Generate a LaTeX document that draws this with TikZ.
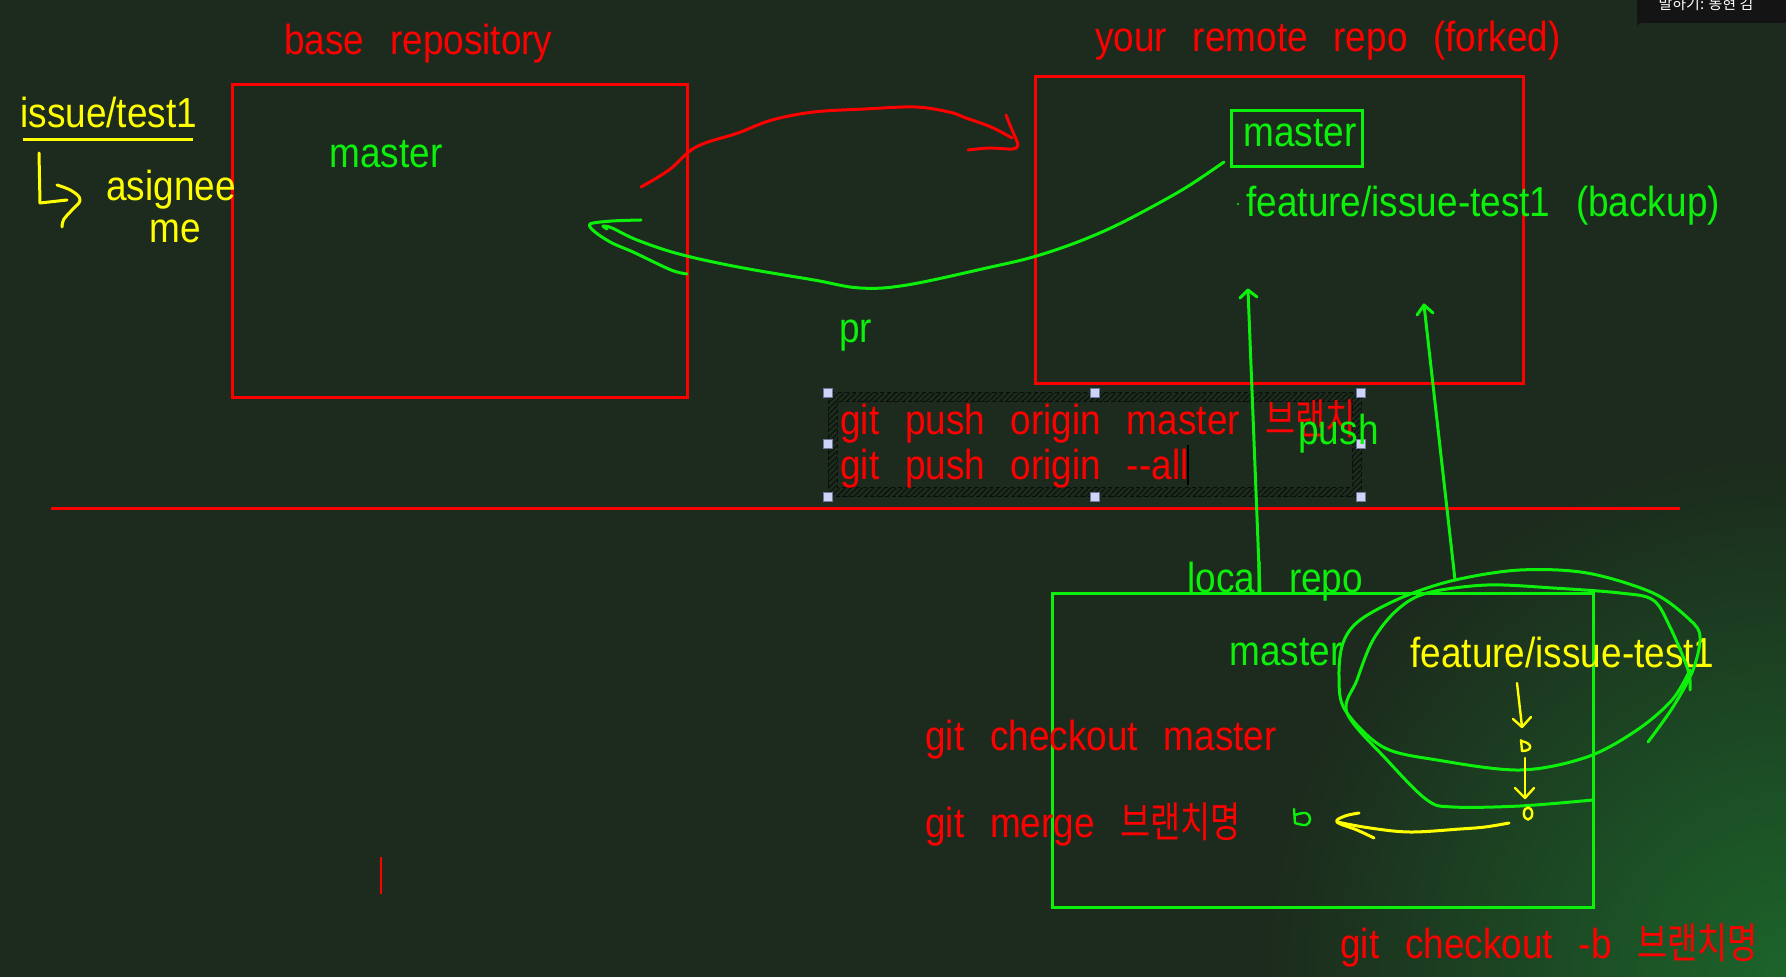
\documentclass[tikz,border=0pt]{standalone}
\usepackage{fontspec}
\usetikzlibrary{patterns.meta}
\setmainfont{Liberation Sans}[FakeStretch=0.88,WordSpace=2.5]
\newfontfamily\kr{Noto Sans CJK KR}[FakeStretch=0.78]
\newfontfamily\krsmall{Noto Sans CJK KR}
\definecolor{bg}{RGB}{28,43,29}
\definecolor{glow}{RGB}{28,100,42}
\definecolor{myred}{RGB}{255,0,0}
\definecolor{mygreen}{RGB}{12,240,12}
\definecolor{myyellow}{RGB}{255,255,0}
\definecolor{hatch}{RGB}{10,14,10}
\definecolor{handlefill}{RGB}{205,212,245}
\definecolor{handledraw}{RGB}{110,120,160}
\tikzset{
  txt/.style={anchor=base west, inner sep=0pt, font=\fontsize{21}{24}\selectfont},
  rtxt/.style={txt, text=myred},
  gtxt/.style={txt, text=mygreen},
  ytxt/.style={txt, text=myyellow},
  box/.style={draw, line width=1.5pt, inner sep=0pt, fill=none},
  stroke/.style={line width=1.5pt, line cap=round, line join=round},
  handle/.style={draw=handledraw, fill=handlefill, line width=0.4pt, minimum size=4.5pt, inner sep=0pt},
}
\begin{document}
\begin{tikzpicture}[x=0.5pt,y=-0.5pt]
\useasboundingbox (0,0) rectangle (1786,977);
% background
\fill[bg] (0,0) rectangle (1786,977);
\begin{scope}
  \clip (0,0) rectangle (1786,977);
  \shade[inner color=glow, outer color=bg] (1786,977) circle (520);
\end{scope}

% top-right overlay
\fill[black!92] (1637,-5) -- (1786,-5) -- (1786,23) -- (1641,23) arc[start angle=270, end angle=180, radius=4] -- cycle;
\node[anchor=base, inner sep=0pt, text=white, font=\krsmall\fontsize{7.5}{8}\selectfont] (talk) at (1706,10) {말하기: 동현 김};

% boxes
\node[box, draw=myred, minimum width=227.5pt, minimum height=156.5pt] (base) at (459.5,241.5) {};
\node[box, draw=myred, minimum width=244pt, minimum height=153.5pt] (remote) at (1279,230.5) {};
\node[box, draw=mygreen, minimum width=65.5pt, minimum height=28pt] (mbox) at (1296.5,139) {};
\node[box, draw=mygreen, minimum width=270.5pt, minimum height=157pt] (local) at (1322.5,750) {};

% separator line
\coordinate (sepL) at (51,509);
\coordinate (sepR) at (1680,509);
\draw[myred, line width=1.5pt] (sepL) -- (sepR);

% small red tick
\coordinate (tickA) at (381,857);
\coordinate (tickB) at (381,894);
\draw[myred, line width=1pt] (tickA) -- (tickB);

% left notes
\node[ytxt] (issue) at (20,128) {issue/test1};
\draw[myyellow, line width=1.5pt] (23,140) -- (193,140);
\draw[myyellow, stroke] (39,153) -- (40,203) -- (67,200);
\draw[myyellow, stroke] plot[smooth, tension=0.7] coordinates {(57,185) (72,191) (80,200) (72,210) (64,219) (62,227)};
\node[ytxt] (asg) at (106,201) {asignee};
\node[ytxt] (me) at (149,243) {me};

% titles
\node[rtxt] (tbase) at (284,55) {base repository};
\node[rtxt] (tremote) at (1095,52) {your remote repo (forked)};

% texts inside boxes
\node[gtxt] (m1) at (329,168) {master};
\node[gtxt] (m2) at (1243,147) {master};
\fill[mygreen] (1238,204) circle (1.2);
\node[gtxt] (feat) at (1246,217) {feature/issue-test1 (backup)};
\node[gtxt] (pr) at (839,343) {pr};

% selected text frame
\fill[pattern={Lines[angle=45,distance=2pt,line width=0.45pt]}, pattern color=hatch, even odd rule] (828,393) rectangle (1361,497) (837,402) rectangle (1352,488);
\draw[hatch, line width=0.5pt, dash pattern=on 2pt off 1.5pt] (828,393) rectangle (1361,497);
\draw[hatch, line width=0.5pt, dash pattern=on 2pt off 1.5pt] (837,402) rectangle (1352,488);
\foreach \p/\n in {{(828,393)}/h1,{(1095,393)}/h2,{(1361,393)}/h3,{(828,444)}/h4,{(1361,444)}/h5,{(828,497)}/h6,{(1095,497)}/h7,{(1361,497)}/h8}
  \node[handle] (\n) at \p {};
\node[rtxt] (cmd1) at (840,435) {git push origin master {\kr 브랜치}};
\node[rtxt] (cmd2) at (840,480) {git push origin -{}-all};
\draw[black, line width=0.6pt] (1188,445) -- (1188,485);
\node[gtxt] (push) at (1298,445) {push};

% local repo texts
\node[gtxt] (tlocal) at (1187,592) {local repo};
\node[gtxt] (m3) at (1229,665) {master};
\node[ytxt] (feat2) at (1410,667) {feature/issue-test1};
\node[rtxt] (co) at (925,750) {git checkout master};
\node[rtxt] (mg) at (925,837) {git merge {\kr 브랜치명}};
\node[rtxt] (cob) at (1340,958) {git checkout -b {\kr 브랜치명}};

% red fork arrow
\draw[myred, stroke] plot[smooth, tension=0.6] coordinates {(641,187) (669,170) (696,147) (738,133) (772,120) (814,112) (865,109) (915,107) (949,112) (966,118) (991,127) (1012,138)};
\draw[myred, stroke] plot[smooth, tension=0.5] coordinates {(1006,115) (1012,130) (1018,145) (1012,149) (990,148) (968,150)};

% green pr arrow
\draw[mygreen, stroke] plot[smooth, tension=0.6] coordinates {(1224,162) (1190,185) (1159,203) (1115,226) (1075,243) (1033,257) (991,267) (907,285) (860,288) (814,280) (738,267) (679,254) (637,240) (612,228) (603,226) (607,229)};
\draw[mygreen, stroke] plot[smooth, tension=0.5] coordinates {(641,220) (612,221) (590,224) (595,232) (612,243) (633,252) (671,270) (687,274)};

% push arrows
\coordinate (p1s) at (1260,593);
\coordinate (p1e) at (1248,290);
\coordinate (p2s) at (1455,580);
\coordinate (p2e) at (1424,305);
\draw[mygreen, stroke] (p1s) -- (p1e);
\draw[mygreen, stroke] (1240,298) -- (p1e) -- (1257,297);
\draw[mygreen, stroke] (p2s) -- (p2e);
\draw[mygreen, stroke] (1417,315) -- (p2e) -- (1433,313);

% green loops
\draw[mygreen, stroke] plot[smooth, tension=0.55] coordinates {(1648,742) (1673,707) (1693,670) (1700,637) (1690,620) (1653,593) (1587,573) (1520,570) (1455,580) (1403,597) (1360,620) (1343,643) (1339,677) (1345,710) (1383,747) (1437,760) (1520,770) (1587,757) (1637,730) (1672,700) (1690,670)};
\draw[mygreen, stroke] plot[smooth, tension=0.55] coordinates {(1593,800) (1520,806) (1453,807) (1427,800) (1387,760) (1347,713) (1357,680) (1373,640) (1397,610) (1427,593) (1487,585) (1553,588) (1620,593) (1653,600) (1670,627) (1688,670) (1690,690)};

% yellow commit arrows
\draw[myyellow, line width=1.2pt, line cap=round] (1517,683) -- (1522,727);
\draw[myyellow, line width=1.2pt, line cap=round, line join=round] (1513,719) -- (1522,727) -- (1531,717);
\draw[myyellow, line width=1.2pt, line cap=round] (1521,740) -- (1522,751);
\draw[myyellow, line width=1.2pt, line cap=round] (1521,741) .. controls (1533,743) and (1533,751) .. (1522,751);
\draw[myyellow, line width=1.2pt, line cap=round] (1525,758) -- (1525,798);
\draw[myyellow, line width=1.2pt, line cap=round, line join=round] (1515,788) -- (1525,798) -- (1534,788);
\draw[myyellow, line width=1.2pt] (1528,813.5) ellipse (4.2 and 6);
\draw[myyellow, stroke] plot[smooth, tension=0.6] coordinates {(1509,823) (1485,827) (1460,829) (1410,832) (1370,828) (1337,822)};
\draw[myyellow, stroke] plot[smooth, tension=0.6] coordinates {(1359,813) (1345,816) (1337,822) (1357,830) (1374,838)};

% green b mark
\draw[mygreen, line width=1.2pt, line cap=round] (1294,809) -- (1295,823);
\draw[mygreen, line width=1.2pt, line cap=round] plot[smooth, tension=0.7] coordinates {(1295,815) (1306,813) (1310,819) (1306,825) (1295,823)};
\end{tikzpicture}
\end{document}
